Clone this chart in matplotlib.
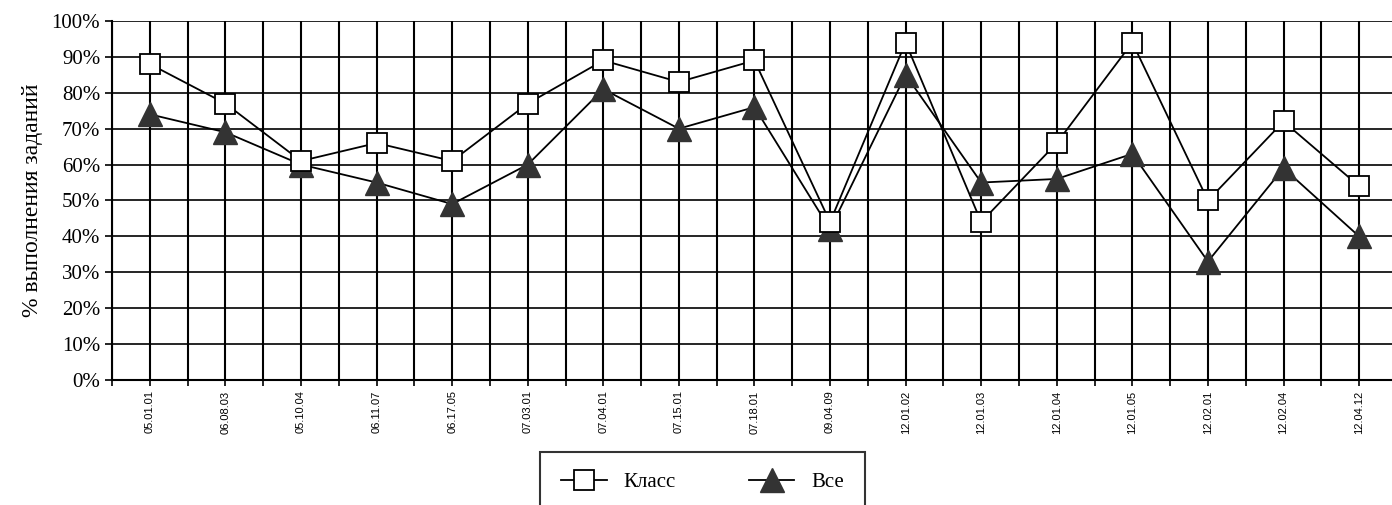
import numpy as np
import matplotlib
matplotlib.use('Agg')
import matplotlib.pyplot as plt
from matplotlib.ticker import MultipleLocator, PercentFormatter

# Chart data
codes = ['05.01.01', '06.08.03', '05.10.04', '06.11.07', '06.17.05', '07.03.01',
         '07.04.01', '07.15.01', '07.18.01', '09.04.09', '12.01.02', '12.01.03',
         '12.01.04', '12.01.05', '12.02.01', '12.02.04', '12.04.12']
klass = [88, 77, 61, 66, 61, 77, 89, 83, 89, 44, 94, 44, 66, 94, 50, 72, 54]
vse = [74, 69, 60, 55, 49, 60, 81, 70, 76, 42, 85, 55, 56, 63, 33, 59, 40]

plt.rcParams['font.family'] = ['Liberation Serif', 'DejaVu Serif']

fig = plt.figure(figsize=(13.92, 5.05), dpi=100)
ax = fig.add_axes([0.0805, 0.2475, 0.923, 0.711])

x = np.arange(len(codes))
ax.plot(x, klass, color='black', lw=1.3, marker='s', ms=14,
        mfc='white', mec='black', mew=1.3, label='Класс', zorder=4)
ax.plot(x, vse, color='black', lw=1.3, marker='^', ms=17,
        mfc='#333333', mec='#333333', label='Все', zorder=3)

ax.set_xlim(-0.5, len(codes) - 0.5)
ax.set_ylim(0, 100)

ax.set_xticks(x)
ax.set_xticklabels(codes, rotation=90, fontsize=8, family='Liberation Sans')
ax.xaxis.set_minor_locator(MultipleLocator(0.5))
ax.yaxis.set_major_locator(MultipleLocator(10))
ax.yaxis.set_major_formatter(PercentFormatter(decimals=0))
ax.tick_params(axis='y', labelsize=15, length=5, width=1.2, direction='out')
ax.tick_params(axis='x', which='both', length=4, width=1.2, direction='out')

ax.grid(True, axis='x', which='both', color='black', lw=1.5)
ax.grid(True, axis='y', which='major', color='black', lw=1.2)
ax.set_axisbelow(True)

for side in ['top', 'right']:
    ax.spines[side].set_visible(False)
for side in ['left', 'bottom']:
    ax.spines[side].set_linewidth(1.5)

ax.set_ylabel('% выполнения заданий', fontsize=17, labelpad=6)

leg = fig.legend(loc='upper left', bbox_to_anchor=(0.388, 0.105), ncol=2,
                 fontsize=15, frameon=True, fancybox=False, edgecolor='black',
                 borderpad=1.0, borderaxespad=0, columnspacing=3.5,
                 handlelength=2.2)
leg.get_frame().set_linewidth(1.5)

fig.savefig('out.png', dpi=100)
